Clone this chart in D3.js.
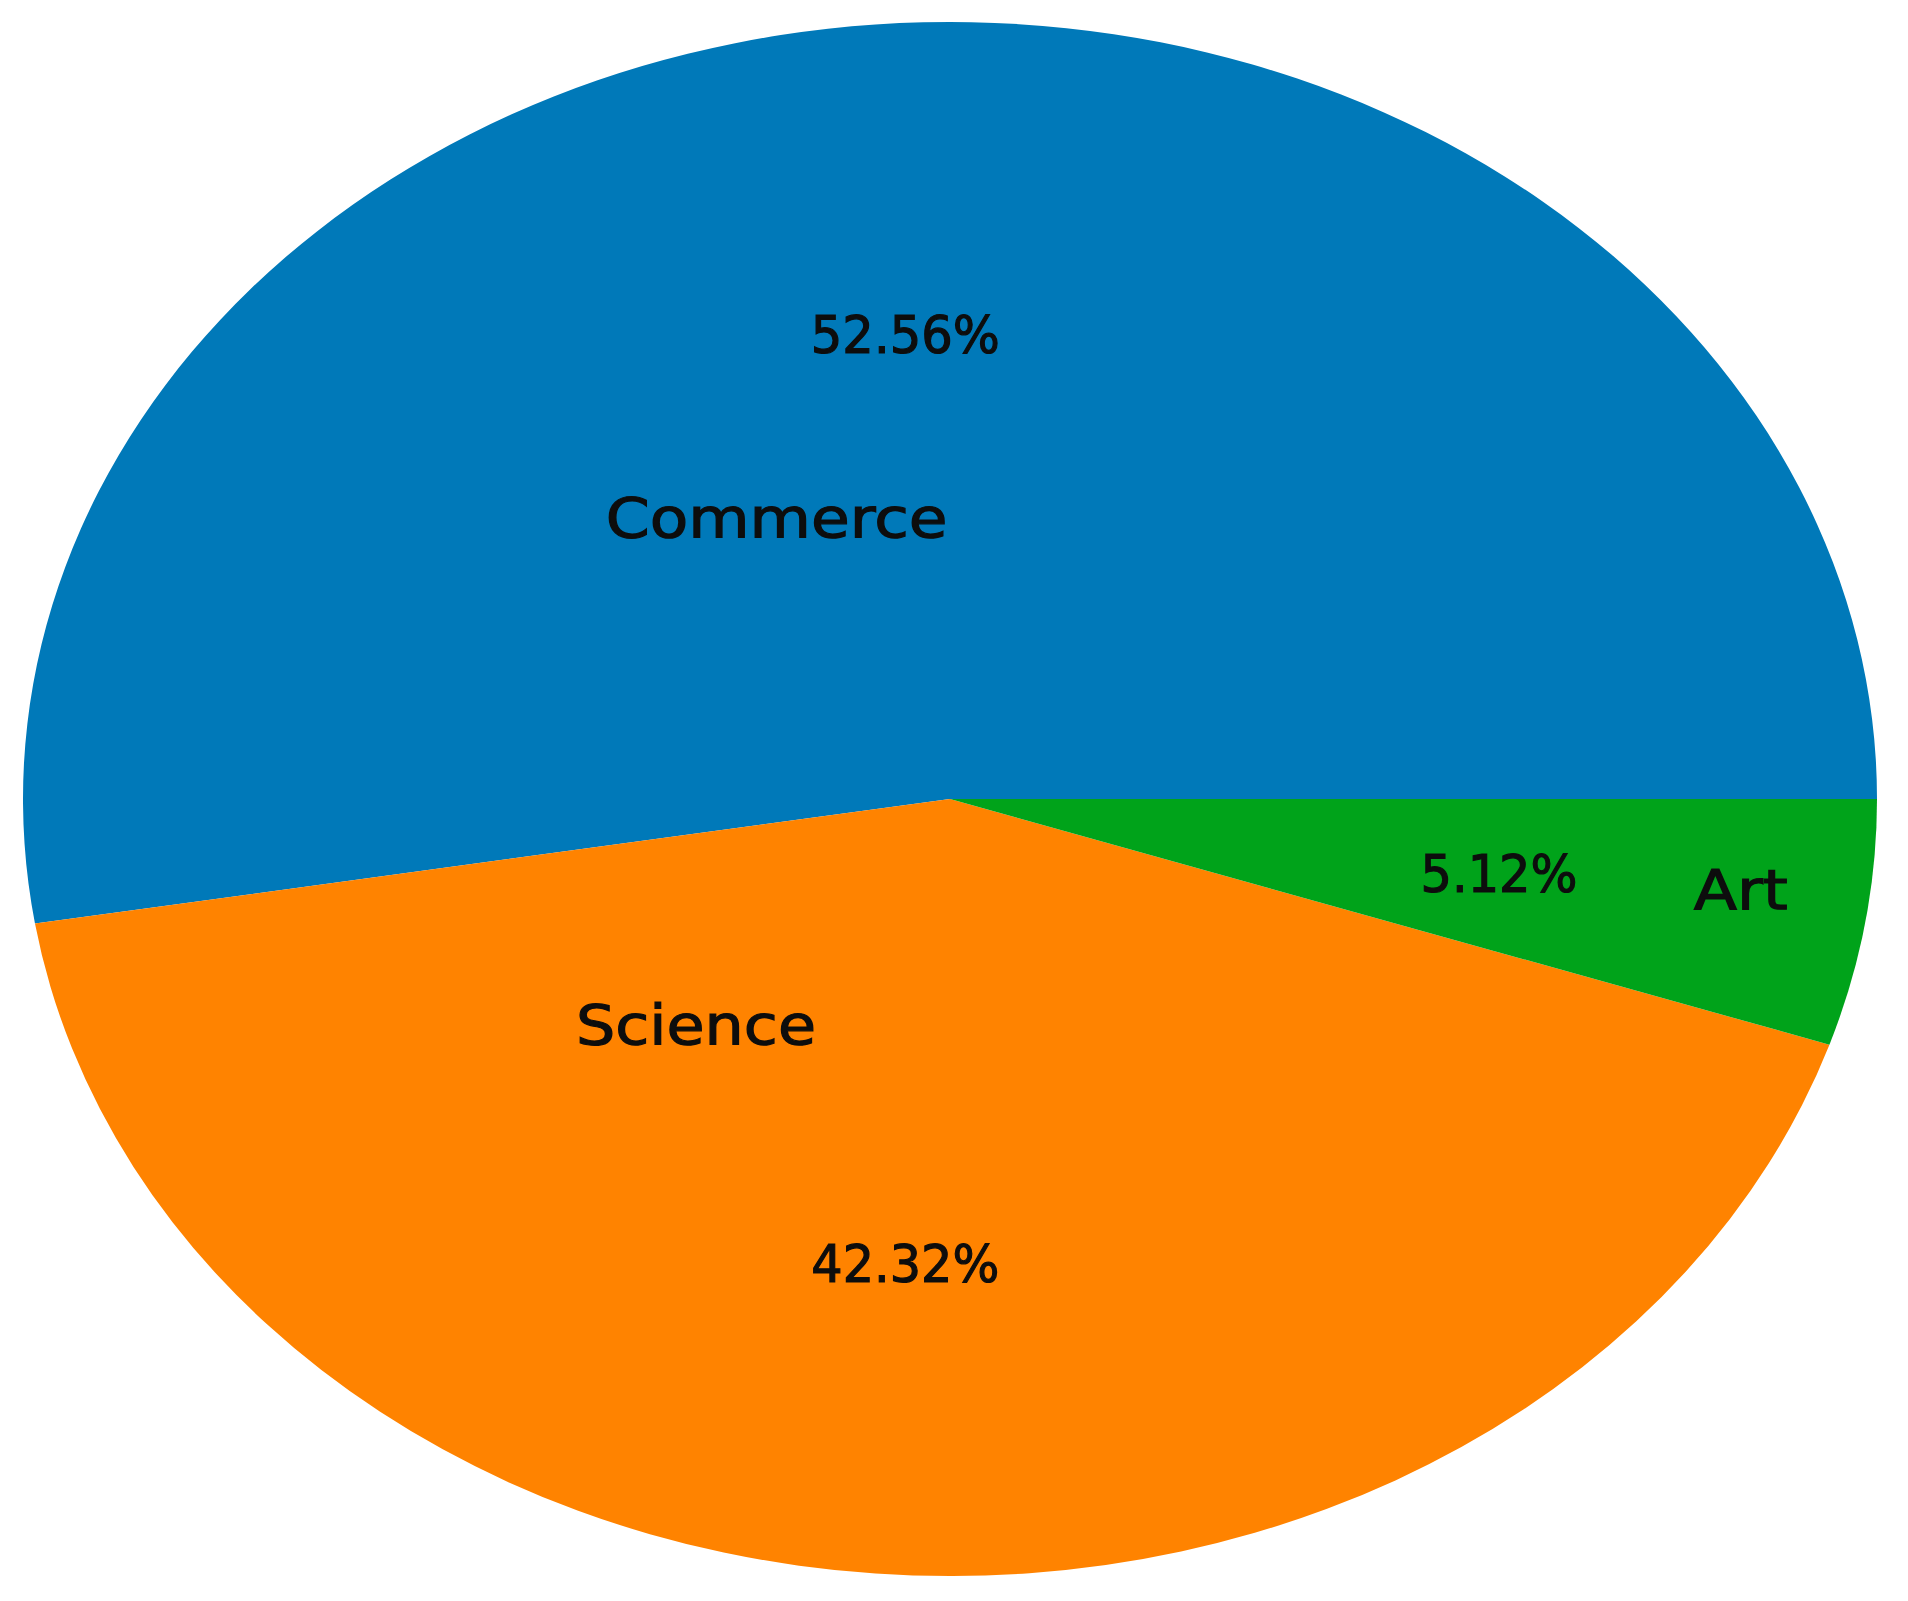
<!DOCTYPE html>
<html>
<head>
<meta charset="utf-8">
<script src="https://cdn.jsdelivr.net/npm/d3@7"></script>
<style>
    html, body { margin: 0; padding: 0; background: #fff; }
    #plot { display: block; }
    text { font-family: "DejaVu Sans", sans-serif; fill: #0d0d0d; stroke: #0d0d0d; stroke-width: 1.2px; }
</style>
</head>
<body>
<svg id="plot"></svg>
<script>
'use strict';

const categories = ['Commerce', 'Science', 'Art'];
const shares = [52.56, 42.32, 5.12];
const pctLabels = ['52.56%', '42.32%', '5.12%'];
const sliceColors = ['#0079b9', '#ff8300', '#00a31a'];

// where the category names sit, in units of the ellipse radii
const labelSpots = [[-0.187, -0.363], [-0.274, 0.290], [0.853, 0.115]];
const labelWidths = [342, 240, 94];
const pctWidths = [189, 188, 157];

const plotWidth = 1908;
const plotHeight = 1601;
const centerX = 950;
const centerY = 799;
const radiusX = 927;
const radiusY = 777;
const pctDistance = 0.6;

function setPlotSize() {
    d3.select('#plot')
        .attr('width', plotWidth)
        .attr('height', plotHeight)
        .attr('viewBox', `0 0 ${plotWidth} ${plotHeight}`);
}

function renderPie() {
    const xScale = d3.scaleLinear().domain([-1, 1]).range([centerX - radiusX, centerX + radiusX]);
    const yScale = d3.scaleLinear().domain([-1, 1]).range([centerY - radiusY, centerY + radiusY]);

    // matplotlib style: start at 3 o'clock and go counter-clockwise
    const pie = d3.pie()
        .sort(null)
        .startAngle(Math.PI / 2)
        .endAngle(Math.PI / 2 - 2 * Math.PI)
        .value(d => d);
    const arcs = pie(shares);
    const arc = d3.arc().innerRadius(0).outerRadius(100);

    d3.select('#plot')
        .append('g')
        .attr('transform', `translate(${centerX}, ${centerY}) scale(${radiusX / 100}, ${radiusY / 100})`)
        .selectAll('path')
        .data(arcs)
        .enter()
        .append('path')
        .attr('d', arc)
        .attr('fill', (_, i) => sliceColors[i]);

    const pctSize = 51;
    d3.select('#plot')
        .append('g')
        .selectAll('text')
        .data(arcs)
        .enter()
        .append('text')
        .attr('x', d => xScale(pctDistance * Math.sin((d.startAngle + d.endAngle) / 2)))
        .attr('y', d => yScale(-pctDistance * Math.cos((d.startAngle + d.endAngle) / 2)) + pctSize * 0.36)
        .attr('text-anchor', 'middle')
        .attr('font-size', pctSize)
        .attr('textLength', (_, i) => pctWidths[i])
        .attr('lengthAdjust', 'spacingAndGlyphs')
        .text((_, i) => pctLabels[i]);

    const labelSize = 56;
    d3.select('#plot')
        .append('g')
        .selectAll('text')
        .data(categories)
        .enter()
        .append('text')
        .attr('x', (_, i) => xScale(labelSpots[i][0]))
        .attr('y', (_, i) => yScale(labelSpots[i][1]) + labelSize * 0.36)
        .attr('text-anchor', 'middle')
        .attr('font-size', labelSize)
        .attr('textLength', (_, i) => labelWidths[i])
        .attr('lengthAdjust', 'spacingAndGlyphs')
        .text(d => d);
}

setPlotSize();
renderPie();
</script>
</body>
</html>
